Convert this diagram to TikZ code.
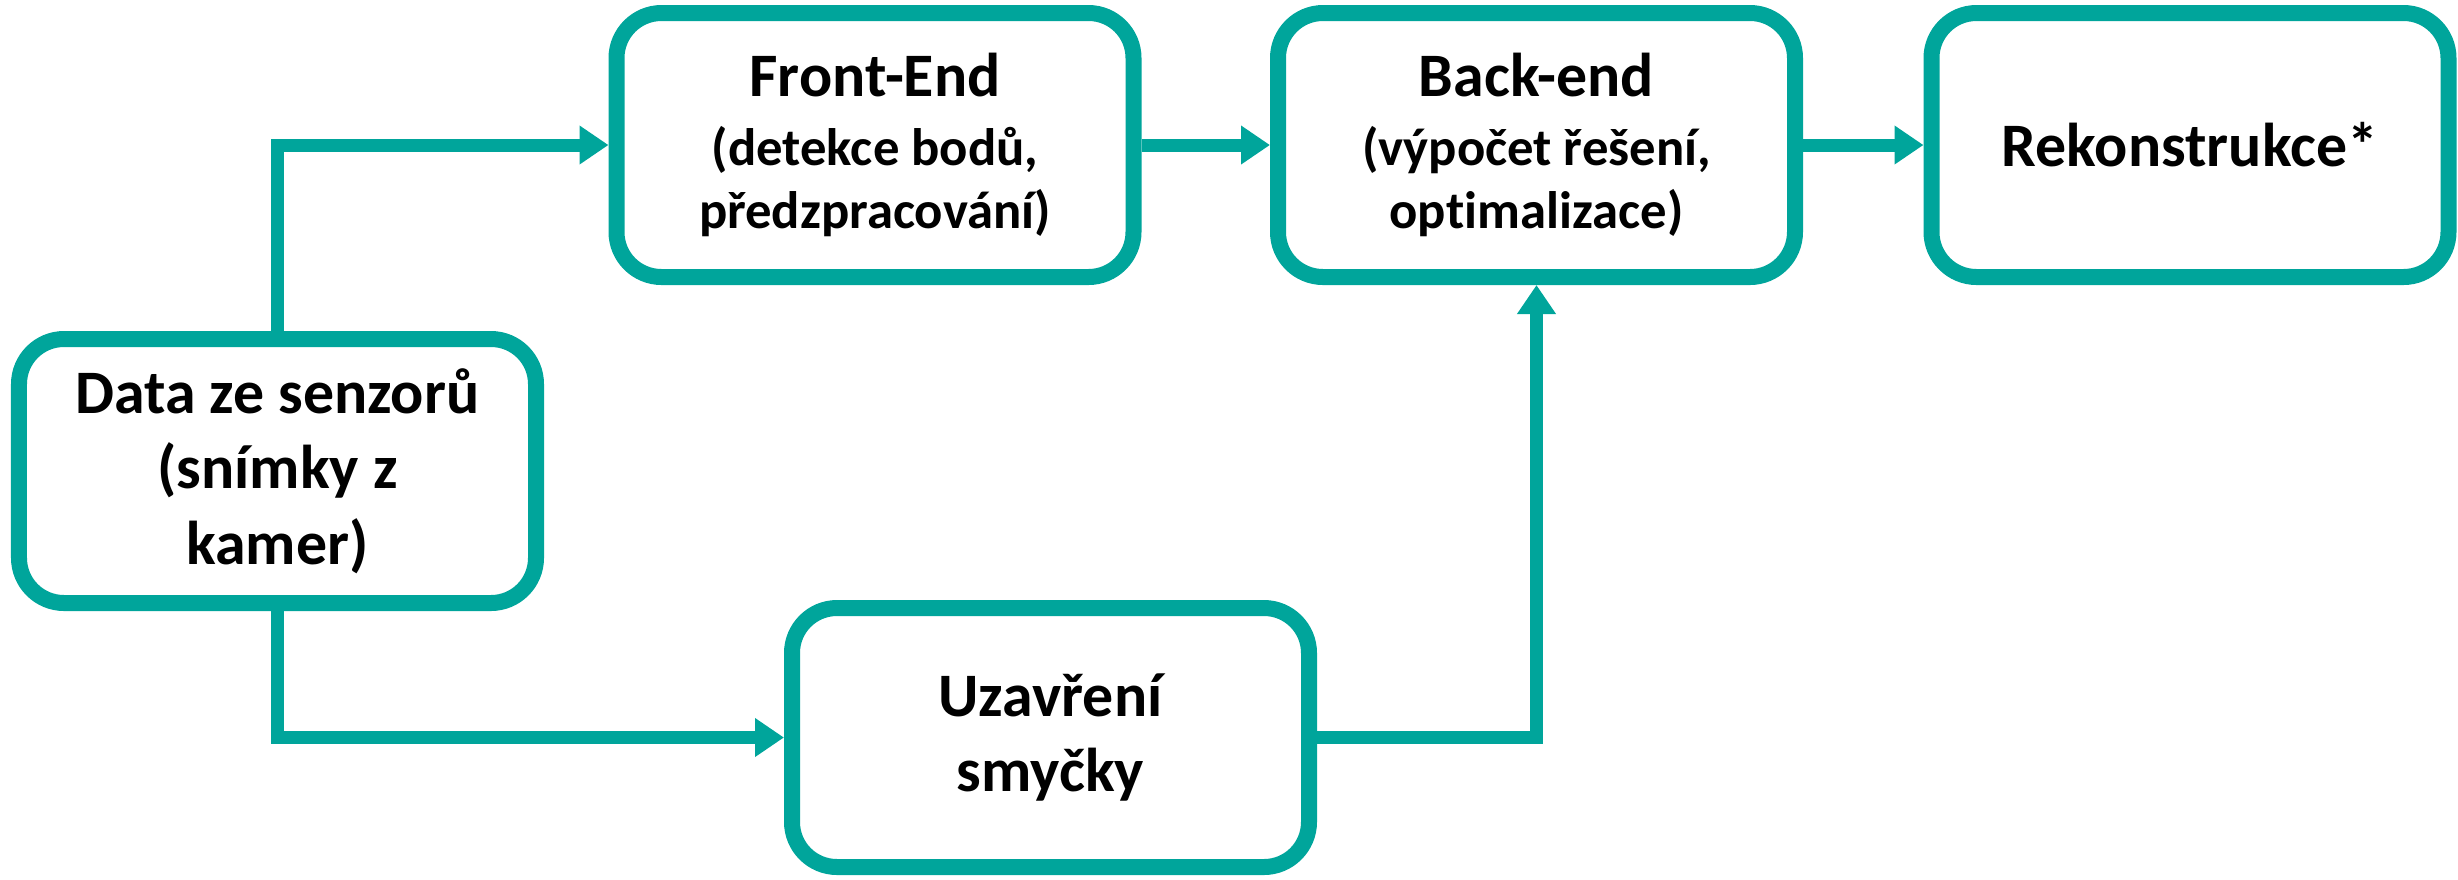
\documentclass[tikz,border=0pt]{standalone}
\usepackage{fontspec}
\setmainfont{Carlito}[Ligatures={NoCommon}]
\usepackage{xcolor}
\usetikzlibrary{arrows.meta}
\definecolor{teal1}{RGB}{0,165,155}
\newcommand{\subtext}{\fontsize{15}{18.3}\selectfont}

\begin{document}
\begin{tikzpicture}[
    box/.style={draw=teal1, line width=0.16cm, rounded corners=0.45cm, fill=white,
                minimum width=5.17cm, minimum height=2.64cm, align=center,
                font=\fontsize{17.6}{21.5}\selectfont\bfseries},
    arr/.style={-{Triangle[length=0.29cm,width=0.37cm]}, draw=teal1, line width=0.13cm}
  ]
      \useasboundingbox (0, 0) rectangle (24.58, -8.79);
      \node[box] (front) at (8.75, -1.45) {Front-End\\[-2pt]{\subtext (detekce bodů,}\\[-3.5pt]{\subtext předzpracování)}};
      \node[box] (back) at (15.365, -1.45) {Back-end\\[-2pt]{\subtext (výpočet řešení,}\\[-3.5pt]{\subtext optimalizace)}};
      \node[box] (rek) at (21.9, -1.45) {Rekonstrukce*};
      \node[box] (data) at (2.775, -4.71) {Data ze senzorů\\(snímky z\\kamer)};
      \node[box, minimum height=2.59cm] (loop) at (10.505, -7.375) {Uzavření\\smyčky};
      \draw[arr] (data.north) |- (front.west);
      \draw[arr] (front.east) -- (back.west);
      \draw[arr] (back.east) -- (rek.west);
      \draw[arr] (data.south) |- (loop.west);
      \draw[arr] (loop.east) -| (back.south);
    \end{tikzpicture}
\end{document}
